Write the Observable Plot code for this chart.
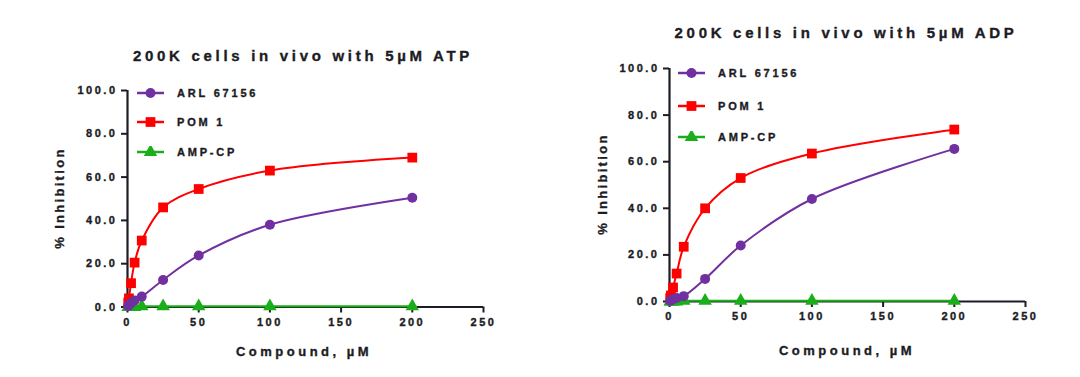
<!DOCTYPE html>
<html><head><meta charset="utf-8">
<script src="https://cdn.jsdelivr.net/npm/d3@7"></script>
<script src="https://cdn.jsdelivr.net/npm/@observablehq/plot@0.6"></script>
<style>
body{margin:0;background:#fff;}
#root{position:relative;width:1080px;height:377px;overflow:hidden;font-family:"Liberation Sans",Arial,sans-serif;font-weight:bold;color:#1c1c24;}
.panel{position:absolute;top:0;}
.panel svg text{letter-spacing:2.5px;stroke:#1c1c24;stroke-width:0.35px;}
.lbl{position:absolute;white-space:nowrap;transform:translate(-50%,-50%);-webkit-text-stroke:0.35px #1c1c24;}
.title{font-size:15px;letter-spacing:3.7px;}
.xlab{font-size:13px;letter-spacing:3.5px;}
.ylab{font-size:13px;letter-spacing:2.3px;transform:translate(-50%,-50%) rotate(-90deg);}
.leg{position:absolute;display:flex;align-items:center;font-size:11px;letter-spacing:2.8px;white-space:nowrap;transform:translateY(-50%);-webkit-text-stroke:0.35px #1c1c24;}
.leg svg{margin-right:13px;}
</style></head>
<body><div id="root"></div>
<script>
// ---------- data ----------
const concentrations = [0.5, 1, 2.5, 5, 10, 25, 50, 100, 200];
const seriesNames = ["ARL 67156", "POM 1", "AMP-CP"];
const titles = ["200K cells in vivo with 5\u00b5M ATP", "200K cells in vivo with 5\u00b5M ADP"];
const xLabel = "Compound, \u00b5M";
const yLabel = "% Inhibition";
const xTicks = [0, 50, 100, 150, 200, 250];
const yTicks = [0, 20, 40, 60, 80, 100];

const atpARL = [0.5, 1, 1.8, 3, 4.8, 12.5, 23.8, 38, 50.5];
const atpPOM = [2, 4, 11, 20.5, 30.7, 46, 54.5, 63, 69];
const atpAMP = [0, 0, 0, 0, 0.3, 0.3, 0.3, 0.3, 0.3];
const adpARL = [0.3, 0.5, 1, 1.5, 2.3, 9.7, 24, 44, 65.5];
const adpPOM = [1.5, 2.6, 6, 12, 23.5, 40, 53, 63.5, 73.8];
const adpAMP = [0, 0, 0, 0, 0.3, 0.3, 0.3, 0.3, 0.3];

const colors = {"ARL 67156": "#7030A0", "POM 1": "#FF0000", "AMP-CP": "#1AAF1A"};
const symbols = {"ARL 67156": "circle", "POM 1": "square", "AMP-CP": "triangle"};
const radii = {"ARL 67156": 5, "POM 1": 5.5, "AMP-CP": 5};

const root = document.getElementById("root");
const font = '"Liberation Sans", Arial, sans-serif';

function rows(vals, name) { return concentrations.map((c, i) => ({x: c, y: vals[i], series: name})); }

function makePanel(cfg) {
  const data = {"ARL 67156": rows(cfg.arl, "ARL 67156"), "POM 1": rows(cfg.pom, "POM 1"), "AMP-CP": rows(cfg.amp, "AMP-CP")};
  const marks = [
    Plot.axisX({ticks: xTicks, tickSize: 6, tickPadding: 5, strokeWidth: 2, label: null, fontSize: 11}),
    Plot.axisY({ticks: yTicks, tickSize: 6, tickPadding: 4, strokeWidth: 2, label: null, tickFormat: d => d.toFixed(1), fontSize: 11}),
    Plot.ruleX([0], {strokeWidth: 2.2}),
    Plot.ruleY([0], {strokeWidth: 2.2})
  ];
  for (const name of ["AMP-CP", "POM 1", "ARL 67156"]) {
    marks.push(Plot.line(data[name], {x: "x", y: "y", stroke: colors[name], strokeWidth: 2, curve: "catmull-rom"}));
    marks.push(Plot.dot(data[name], {x: "x", y: "y", symbol: symbols[name], fill: colors[name], r: radii[name]}));
  }
  const svg = Plot.plot({
    width: 540, height: 377,
    marginLeft: cfg.ml, marginRight: cfg.mr, marginTop: cfg.mt, marginBottom: cfg.mb,
    x: {domain: [0, 250]},
    y: {domain: [0, 100]},
    style: {fontFamily: font, fontSize: "11px", fontWeight: "bold", color: "#1c1c24", background: "transparent", overflow: "visible"},
    marks
  });
  const wrap = document.createElement("div");
  wrap.className = "panel";
  wrap.style.left = cfg.left + "px";
  wrap.appendChild(svg);
  root.appendChild(wrap);

  const addLabel = (cls, text, x, y) => {
    const d = document.createElement("div");
    d.className = "lbl " + cls; d.textContent = text;
    d.style.left = x + "px"; d.style.top = y + "px";
    root.appendChild(d);
  };
  addLabel("title", cfg.title, cfg.titleX, cfg.titleY);
  addLabel("xlab", xLabel, cfg.xlabX, cfg.xlabY);
  addLabel("ylab", yLabel, cfg.ylabX, cfg.ylabY);

  seriesNames.forEach((name, i) => {
    const row = document.createElement("div");
    row.className = "leg";
    row.style.left = cfg.legX + "px";
    row.style.top = cfg.legY[i] + "px";
    const s = d3.create("svg").attr("width", 27).attr("height", 12);
    s.append("line").attr("x1", 0).attr("x2", 27).attr("y1", 6).attr("y2", 6).attr("stroke", colors[name]).attr("stroke-width", 2.5);
    const sym = {circle: d3.symbolCircle, square: d3.symbolSquare, triangle: d3.symbolTriangle}[symbols[name]];
    s.append("path").attr("transform", "translate(13.5,6)").attr("d", d3.symbol(sym, Math.PI * radii[name] * radii[name])()).attr("fill", colors[name]);
    row.appendChild(s.node());
    const t = document.createElement("span"); t.textContent = name;
    row.appendChild(t);
    root.appendChild(row);
  });
}

makePanel({arl: atpARL, pom: atpPOM, amp: atpAMP, title: titles[0], left: 0,
  ml: 127, mr: 57, mt: 90, mb: 70.5,
  titleX: 303, titleY: 54.5, xlabX: 304, xlabY: 351, ylabX: 59, ylabY: 198,
  legX: 137, legY: [92.7, 121.7, 151.7]});
makePanel({arl: adpARL, pom: adpPOM, amp: adpAMP, title: titles[1], left: 540,
  ml: 129, mr: 55, mt: 68, mb: 76,
  titleX: 846, titleY: 31.7, xlabX: 847, xlabY: 349.5, ylabX: 602, ylabY: 184,
  legX: 678, legY: [72.7, 105.7, 136.7]});
</script></body></html>
